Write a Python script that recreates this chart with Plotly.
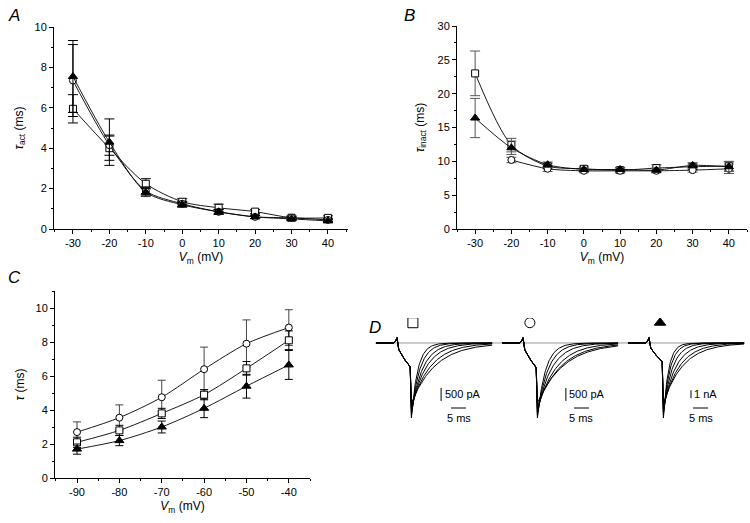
import numpy as np
import plotly.graph_objects as go

W, H = 750, 523
def px(x): return x / W
def py(y): return 1 - y / H

# ---------------- Data ----------------
vm_ab = [-30, -20, -10, 0, 10, 20, 30, 40]
vm_ab_labels = ["-30", "-20", "-10", "0", "10", "20", "30", "40"]

# Panel A: tau_act (ms)
a_square = [5.95, 4.0, 2.24, 1.35, 1.05, 0.86, 0.56, 0.55]
a_square_err = [0.7, 0.6, 0.25, 0.15, 0.18, 0.1, 0.08, 0.1]
a_circle = [7.35, 4.15, 1.88, 1.25, 0.85, 0.6, 0.55, 0.45]
a_circle_err = [1.78, 0.5, 0.2, 0.12, 0.12, 0.08, 0.08, 0.08]
a_tri = [7.55, 4.3, 1.82, 1.2, 0.85, 0.6, 0.5, 0.4]
a_tri_err = [1.78, 1.15, 0.2, 0.12, 0.12, 0.08, 0.08, 0.08]

# Panel B: tau_inact (ms)
b_square = [23.0, 12.4, 9.3, 8.9, 8.7, 9.0, 9.2, 9.3]
b_square_err = [3.3, 1.0, 0.4, 0.4, 0.4, 0.5, 0.4, 0.7]
b_circle = [None, 10.2, 8.9, 8.6, 8.6, 8.6, 8.7, 8.9]
b_circle_err = [0, 0.4, 0.4, 0.3, 0.3, 0.3, 0.3, 0.7]
b_tri = [16.4, 12.0, 9.5, 8.8, 8.8, 8.7, 9.4, 9.2]
b_tri_err = [2.9, 1.0, 0.4, 0.3, 0.3, 0.3, 0.4, 0.7]

# Panel C: tau (ms)
vm_c = [-90, -80, -70, -60, -50, -40]
vm_c_labels = ["-90", "-80", "-70", "-60", "-50", "-40"]
c_circle = [2.7, 3.55, 4.75, 6.4, 7.9, 8.85]
c_circle_err = [0.6, 0.75, 1.0, 1.3, 1.4, 1.05]
c_square = [2.1, 2.8, 3.8, 4.9, 6.45, 8.1]
c_square_err = [0.3, 0.3, 0.3, 0.3, 0.4, 0.55]
c_tri = [1.7, 2.2, 3.0, 4.1, 5.4, 6.65]
c_tri_err = [0.3, 0.3, 0.35, 0.55, 0.7, 0.85]

# Panel D: current traces (time in ms, current normalised to group peak)
d_groups = ["square", "circle", "triangle-up"]
d_scale_labels = ["500 pA", "500 pA", "1 nA"]
d_scale_pA = [500, 500, 1000]
d_peak_pA = [2885, 2885, 9400]
d_shoulder = [-0.32, -0.33, -0.25]
d_peak_frac = [1.0, 0.96, 0.92, 0.88, 0.84, 0.80]
d_taus = [c_square, c_circle, c_tri]
d_pre_t = [0, 6.0, 6.6, 7.0, 7.6, 8.7, 9.7, 10.7, 11.4]
d_pre_i = [0, 0, 0.03, 0.07, -0.09, -0.17, -0.23, -0.28, -0.32]
d_t_peak = 11.8
d_t_end = 38.7

# ---------------- Figure ----------------
fig = go.Figure()

def series(x, y, err, sym, xa, ya, errw, errcolor="black"):
    filled = sym.startswith("triangle")
    fig.add_trace(go.Scatter(
        x=x, y=y, mode="lines+markers", xaxis=xa, yaxis=ya,
        line=dict(color="black", width=0.9, shape="spline", smoothing=0.8),
        connectgaps=False,
        marker=dict(symbol=sym, size=7 if sym != "triangle-up" else 8,
                    color="black" if filled else "white",
                    line=dict(color="black", width=1)),
        error_y=dict(type="data", array=err, visible=True, color=errcolor,
                     thickness=1, width=errw),
        hoverinfo="skip"))

series(vm_ab, a_square, a_square_err, "square", "x", "y", 5)
series(vm_ab, a_circle, a_circle_err, "circle", "x", "y", 5)
series(vm_ab, a_tri, a_tri_err, "triangle-up", "x", "y", 5)

series(vm_ab, b_square, b_square_err, "square", "x2", "y2", 5, "#555")
series(vm_ab[1:], b_circle[1:], b_circle_err[1:], "circle", "x2", "y2", 5, "#555")
series(vm_ab, b_tri, b_tri_err, "triangle-up", "x2", "y2", 5, "#555")

series(vm_c, c_circle, c_circle_err, "circle", "x3", "y3", 4, "#444")
series(vm_c, c_square, c_square_err, "square", "x3", "y3", 4)
series(vm_c, c_tri, c_tri_err, "triangle-up", "x3", "y3", 4)

# Panel D traces
group_offset = [0, 42, 84]
for g in range(3):
    off = group_offset[g]
    pre_i = [v * (d_shoulder[g] / d_pre_i[-1]) if v < 0 else v for v in d_pre_i]
    xs, ys = [], []
    for k, tau in enumerate(d_taus[g]):
        t_tail = np.linspace(d_t_peak, d_t_end, 160)
        amp = d_peak_frac[k]
        i_tail = -amp * np.exp(-(t_tail - d_t_peak) / tau)
        xs += [off + t for t in d_pre_t] + list(off + t_tail) + [None]
        ys += pre_i + list(i_tail) + [None]
    fig.add_trace(go.Scatter(x=xs, y=ys, mode="lines", xaxis="x4", yaxis="y4",
                             line=dict(color="black", width=1), hoverinfo="skip"))
    sym_x = [12.3, 9.3, 10.7][g]
    fig.add_trace(go.Scatter(x=[off + sym_x], y=[0.27], mode="markers", xaxis="x4", yaxis="y4",
                             marker=dict(symbol=d_groups[g], size=10,
                                         color="black" if g == 2 else "white",
                                         line=dict(color="black", width=1)),
                             hoverinfo="skip"))

shapes = []
annotations = []
shapes.append(dict(type="line", xref="x4", yref="y4", x0=-0.3, x1=123, y0=0, y1=0,
                   line=dict(color="#999", width=1), layer="below"))
vbar_x = [21.7, 21.3, 21.0]
hbar_x0 = [25.0, 24.0, 21.7]
vbar_top = [-0.6, -0.6, -0.63]
for g in range(3):
    off = group_offset[g]
    L = d_scale_pA[g] / d_peak_pA[g]
    shapes.append(dict(type="line", xref="x4", yref="y4",
                       x0=off + vbar_x[g], x1=off + vbar_x[g],
                       y0=vbar_top[g], y1=vbar_top[g] - L,
                       line=dict(color="black", width=1)))
    annotations.append(dict(x=off + vbar_x[g] + 0.5, y=vbar_top[g] - L / 2,
                            xref="x4", yref="y4", text=d_scale_labels[g],
                            showarrow=False, xanchor="left", yanchor="middle",
                            font=dict(size=11)))
    shapes.append(dict(type="line", xref="x4", yref="y4",
                       x0=off + hbar_x0[g], x1=off + hbar_x0[g] + 5,
                       y0=-0.867, y1=-0.867, line=dict(color="black", width=1)))
    annotations.append(dict(x=off + hbar_x0[g] + 2.5, y=-1.0, xref="x4", yref="y4",
                            text="5 ms", showarrow=False, xanchor="center",
                            yanchor="middle", font=dict(size=11)))

for lab, x, y in [("A", 14, 16), ("B", 409, 16), ("C", 14, 277), ("D", 375, 327)]:
    annotations.append(dict(x=px(x), y=py(y), xref="paper", yref="paper",
                            text="<i>%s</i>" % lab, showarrow=False,
                            xanchor="center", yanchor="middle",
                            font=dict(size=17, family="Liberation Sans, Arial")))

axis_common = dict(showline=True, linecolor="black", linewidth=1, ticks="outside",
                   ticklen=4, tickwidth=1, tickcolor="black", showgrid=False,
                   zeroline=False, automargin=False,
                   tickfont=dict(size=11, color="black"))

xt = "<i>V</i><sub>m</sub> (mV)"
fig.update_layout(
    template="none", width=W, height=H,
    margin=dict(l=0, r=0, t=0, b=0),
    paper_bgcolor="white", plot_bgcolor="rgba(0,0,0,0)", showlegend=False,
    font=dict(family="Liberation Sans, Arial", size=11, color="black"),
    xaxis=dict(domain=[px(54), px(348)], range=[-35.2, 45.5], anchor="y",
               tickvals=vm_ab, ticktext=vm_ab_labels,
               minor=dict(ticks="outside", dtick=5, tick0=0, ticklen=2),
               title=dict(text=xt, font=dict(size=12), standoff=4), **axis_common),
    yaxis=dict(domain=[py(229), py(27)], range=[0, 10], anchor="x", dtick=2,
               minor=dict(ticks="outside", dtick=1, ticklen=2),
               title=dict(text="<i>τ</i><sub>act</sub> (ms)", font=dict(size=12), standoff=8),
               **axis_common),
    xaxis2=dict(domain=[px(457), px(747)], range=[-35, 45], anchor="y2",
                tickvals=vm_ab, ticktext=vm_ab_labels,
                minor=dict(ticks="outside", dtick=5, tick0=0, ticklen=2),
                title=dict(text=xt, font=dict(size=12), standoff=4), **axis_common),
    yaxis2=dict(domain=[py(229), py(26)], range=[0, 30], anchor="x2", dtick=5,
                minor=dict(ticks="outside", dtick=2.5, ticklen=2),
                title=dict(text="<i>τ</i><sub>inact</sub> (ms)", font=dict(size=12), standoff=10),
                **axis_common),
    xaxis3=dict(domain=[px(55), px(310)], range=[-95.2, -35], anchor="y3",
                tickvals=vm_c, ticktext=vm_c_labels,
                minor=dict(ticks="outside", dtick=5, tick0=0, ticklen=2),
                title=dict(text=xt, font=dict(size=12), standoff=4), **axis_common),
    yaxis3=dict(domain=[py(478), py(291)], range=[0, 11], anchor="x3",
                tickvals=[0, 2, 4, 6, 8, 10],
                minor=dict(ticks="outside", dtick=1, ticklen=2),
                title=dict(text="<i>τ</i> (ms)", font=dict(size=12), standoff=8),
                **axis_common),
    xaxis4=dict(domain=[px(370), px(750)], range=[-2, 124.67], anchor="y4",
                visible=False),
    yaxis4=dict(domain=[py(432), py(318)], range=[-1.187, 0.333], anchor="x4",
                visible=False),
    shapes=shapes, annotations=annotations,
)

fig.write_html("out.html", config={"displayModeBar": False},
               post_script="document.body.style.margin='0px';")
